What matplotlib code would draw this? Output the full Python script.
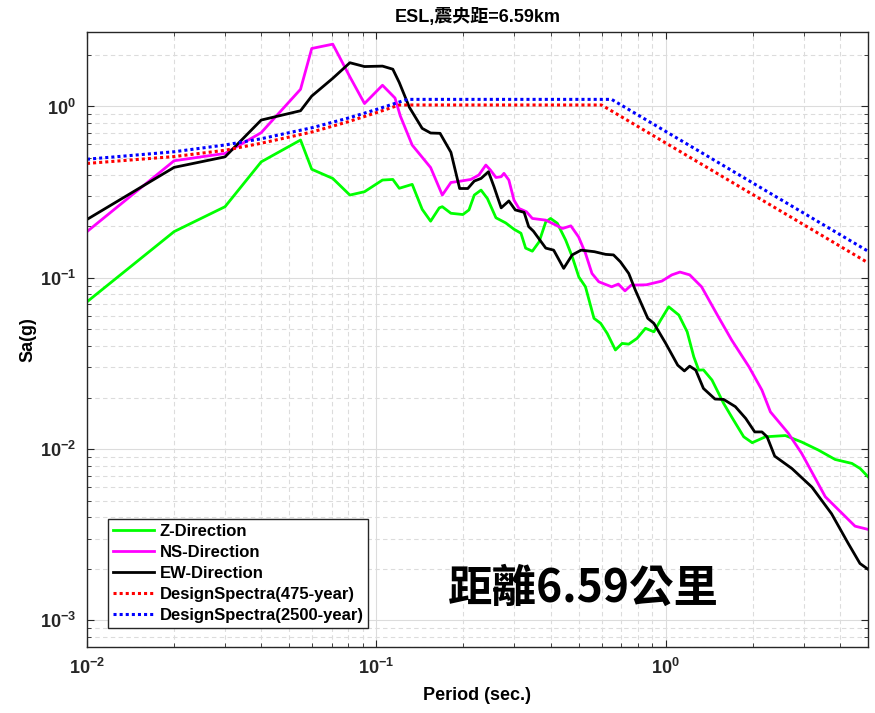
import matplotlib
matplotlib.use("Agg")
import matplotlib.pyplot as plt
from matplotlib.ticker import LogLocator, FuncFormatter, NullFormatter
import numpy as np

# Z-direction response spectrum
t_z = [0.01, 0.02, 0.03, 0.04, 0.0547, 0.0598, 0.0707, 0.081, 0.091, 0.105, 0.114,
       0.12, 0.133, 0.144, 0.154, 0.165, 0.169, 0.181, 0.199, 0.209, 0.218, 0.23,
       0.242, 0.259, 0.28, 0.299, 0.316, 0.328, 0.346, 0.365, 0.385, 0.40, 0.422,
       0.451, 0.475, 0.501, 0.528, 0.565, 0.596, 0.628, 0.67, 0.707, 0.745, 0.796,
       0.851, 0.91, 0.96, 1.024, 1.11, 1.186, 1.25, 1.30, 1.35, 1.445, 1.585, 1.69,
       1.86, 1.99, 2.21, 2.59, 2.95, 3.37, 3.85, 4.40, 4.70, 5.0]
sa_z = [0.0724, 0.186, 0.26, 0.475, 0.637, 0.43, 0.38, 0.304, 0.318, 0.372, 0.375,
        0.333, 0.351, 0.251, 0.214, 0.256, 0.26, 0.238, 0.234, 0.249, 0.304, 0.325,
        0.29, 0.224, 0.209, 0.192, 0.182, 0.149, 0.143, 0.162, 0.212, 0.222, 0.208,
        0.166, 0.133, 0.101, 0.0886, 0.058, 0.0542, 0.0473, 0.0379, 0.0414, 0.041, 0.0443,
        0.0507, 0.0484, 0.0566, 0.0677, 0.0606, 0.0484, 0.0346, 0.0289, 0.029, 0.0253, 0.0185, 0.0154,
        0.0118, 0.0109, 0.0118, 0.0120, 0.0110, 0.00987, 0.0087, 0.00825, 0.0077, 0.0069]

# NS-direction
t_ns = [0.01, 0.02, 0.03, 0.04, 0.0547, 0.0598, 0.0707, 0.081, 0.091, 0.105, 0.116,
        0.121, 0.133, 0.154, 0.169, 0.181, 0.196, 0.212, 0.226, 0.239, 0.248, 0.259,
        0.27, 0.276, 0.287, 0.299, 0.311, 0.33, 0.346, 0.385, 0.41, 0.44, 0.47, 0.50,
        0.528, 0.556, 0.587, 0.65, 0.686, 0.723, 0.76, 0.857, 0.97, 1.05, 1.12, 1.21,
        1.33, 1.52, 1.69, 1.94, 2.15, 2.30, 2.65, 2.95, 3.56, 4.51, 5.0]
sa_ns = [0.186, 0.482, 0.532, 0.703, 1.26, 2.18, 2.31, 1.49, 1.04, 1.33, 1.12,
         0.88, 0.595, 0.44, 0.304, 0.36, 0.367, 0.375, 0.398, 0.455, 0.425, 0.385,
         0.389, 0.407, 0.372, 0.284, 0.254, 0.243, 0.222, 0.217, 0.206, 0.194, 0.201, 0.173,
         0.139, 0.106, 0.0948, 0.0886, 0.0919, 0.0839, 0.0906, 0.091, 0.0957, 0.104, 0.108, 0.104,
         0.0886, 0.0592, 0.0433, 0.0302, 0.0221, 0.0165, 0.0124, 0.00944, 0.00527, 0.00355, 0.0034]

# EW-direction
t_ew = [0.01, 0.02, 0.03, 0.04, 0.0547, 0.0598, 0.0707, 0.081, 0.091, 0.105, 0.114,
        0.12, 0.13, 0.144, 0.154, 0.166, 0.181, 0.194, 0.207, 0.218, 0.23, 0.244,
        0.255, 0.27, 0.287, 0.302, 0.324, 0.336, 0.349, 0.385, 0.41, 0.444, 0.475,
        0.51, 0.567, 0.62, 0.66, 0.697, 0.745, 0.785, 0.867, 0.91, 1.0, 1.1, 1.16,
        1.21, 1.27, 1.35, 1.48, 1.585, 1.74, 1.89, 2.03, 2.15, 2.24, 2.38, 2.73,
        3.2, 3.74, 4.27, 4.69, 5.0]
sa_ew = [0.219, 0.441, 0.508, 0.833, 0.944, 1.15, 1.46, 1.80, 1.71, 1.72, 1.65,
         1.38, 0.99, 0.745, 0.70, 0.697, 0.54, 0.332, 0.332, 0.367, 0.38, 0.416,
         0.34, 0.256, 0.281, 0.249, 0.241, 0.199, 0.187, 0.149, 0.145, 0.1135, 0.136,
         0.145, 0.142, 0.137, 0.136, 0.124, 0.106, 0.0848, 0.058, 0.0542, 0.0414, 0.0309, 0.0286,
         0.0305, 0.0289, 0.0226, 0.0196, 0.0195, 0.0177, 0.0151, 0.0126, 0.0126, 0.0118, 0.0091, 0.0077,
         0.0060, 0.0042, 0.00282, 0.00215, 0.00199]

# design spectra
t_ds475 = [0.01, 0.02, 0.03, 0.04, 0.06, 0.08, 0.10, 0.12, 0.60, 5.0]
sa_ds475 = [0.465, 0.51, 0.555, 0.61, 0.71, 0.815, 0.92, 1.02, 1.02, 0.1224]
t_ds2500 = [0.01, 0.02, 0.03, 0.04, 0.06, 0.08, 0.10, 0.128, 0.65, 5.0]
sa_ds2500 = [0.492, 0.544, 0.596, 0.648, 0.752, 0.856, 0.96, 1.10, 1.10, 0.143]

plt.rcParams['font.family'] = ['Liberation Sans', 'Noto Sans CJK TC', 'DejaVu Sans']
plt.rcParams['font.weight'] = 'bold'
plt.rcParams['mathtext.fontset'] = 'custom'
plt.rcParams['mathtext.bf'] = 'Liberation Sans:bold'
plt.rcParams['mathtext.rm'] = 'Liberation Sans:bold'

fig = plt.figure(figsize=(8.75, 7.13), dpi=100)
ax = fig.add_axes([0.0994, 0.0926, 0.8926, 0.8625])

ax.plot(t_z, sa_z, color='#00ff00', lw=2, label='Z-Direction')
ax.plot(t_ns, sa_ns, color='#ff00ff', lw=2, label='NS-Direction')
ax.plot(t_ew, sa_ew, color='black', lw=2, label='EW-Direction')
ax.plot(t_ds475, sa_ds475, color='red', lw=2.2, linestyle=(0, (1, 1)),
        label='DesignSpectra(475-year)')
ax.plot(t_ds2500, sa_ds2500, color='blue', lw=2.2, linestyle=(0, (1, 1)),
        label='DesignSpectra(2500-year)')

ax.set_xscale('log')
ax.set_yscale('log')
ax.set_xlim(0.01, 5)
ax.set_ylim(7.0e-4, 2.72)

ax.xaxis.set_major_locator(LogLocator(base=10, numticks=10))
ax.yaxis.set_major_locator(LogLocator(base=10, numticks=10))
ax.xaxis.set_minor_locator(LogLocator(base=10, subs=np.arange(2, 10), numticks=20))
ax.yaxis.set_minor_locator(LogLocator(base=10, subs=np.arange(2, 10), numticks=20))
fmt = FuncFormatter(lambda v, p: r'$\mathbf{10^{%d}}$' % int(round(np.log10(v))))
ax.xaxis.set_major_formatter(fmt)
ax.yaxis.set_major_formatter(fmt)
ax.xaxis.set_minor_formatter(NullFormatter())
ax.yaxis.set_minor_formatter(NullFormatter())

ax.grid(True, which='major', color='#dcdcdc', linestyle='-', lw=0.8)
ax.grid(True, which='minor', color='#dcdcdc', linestyle=(0, (4, 3)), lw=0.8)
ax.tick_params(which='both', direction='in', top=True, right=True, colors='#262626')
ax.tick_params(which='major', length=5, labelsize=13, pad=8)
ax.tick_params(which='minor', length=3)
for s in ax.spines.values():
    s.set_color('#262626')
    s.set_linewidth(1)

ax.set_title('ESL,震央距=6.59km', fontsize=13, fontweight='bold', pad=7)
ax.set_xlabel('Period (sec.)', fontsize=13, fontweight='bold', labelpad=6)
ax.set_ylabel('Sa(g)', fontsize=13, fontweight='bold', labelpad=2)

leg = ax.legend(loc='lower left', bbox_to_anchor=(0.016, 0.018), fontsize=12,
                handlelength=2.5, handletextpad=0.3, labelspacing=0.36,
                borderpad=0.3, fancybox=False, framealpha=1, edgecolor='#262626')
leg.get_frame().set_linewidth(1)

fig.text(583 / 875, 1 - 589 / 713, '距離6.59公里', fontsize=32, fontweight='black',
         family=['Noto Sans CJK TC'], ha='center', va='center')

fig.savefig('out.png', dpi=100)
